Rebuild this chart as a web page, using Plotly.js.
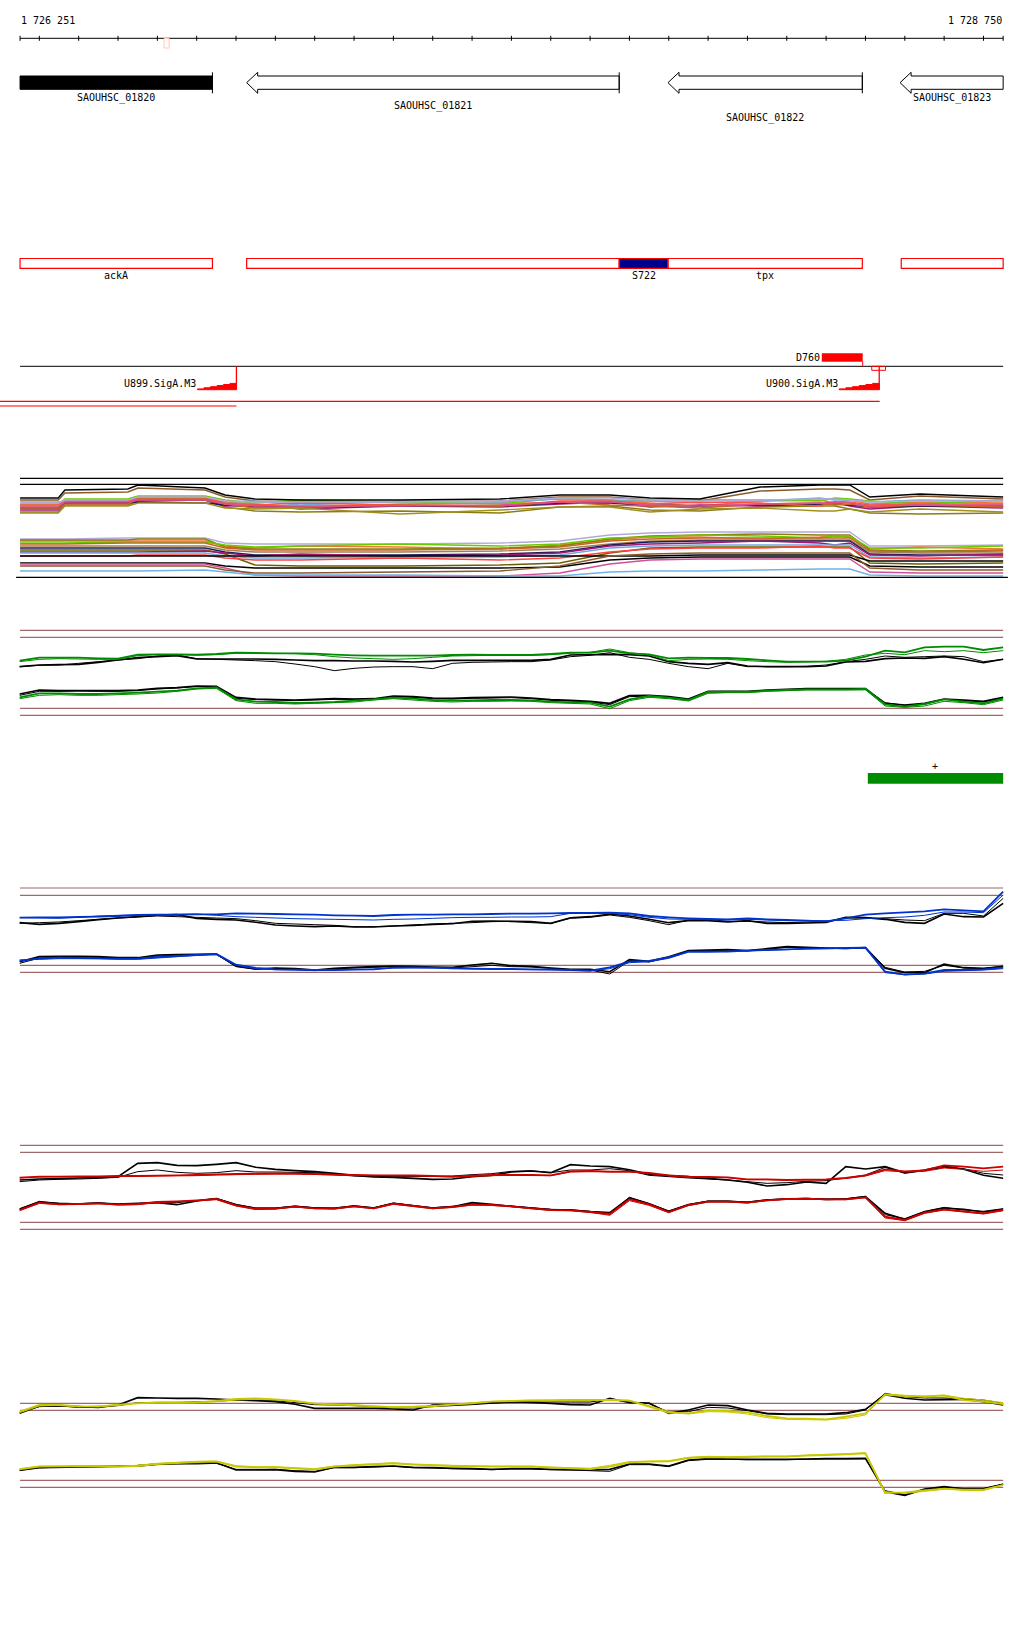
<!DOCTYPE html>
<html><head><meta charset="utf-8">
<script src="https://cdn.plot.ly/plotly-3.0.1.min.js"></script>
<style>body{margin:0;background:#fff}#chart{width:1024px;height:1640px}</style>
</head><body><div id="chart"></div>
<script>
// ---------------- DATA ----------------
const viewStart = 1726251, viewEnd = 1728750;
const rulerTicks = [1726300,1726400,1726500,1726600,1726700,1726800,1726900,1727000,1727100,1727200,1727300,1727400,1727500,1727600,1727700,1727800,1727900,1728000,1728100,1728200,1728300,1728400,1728500,1728600,1728700];
const cursorPos = [1726617, 1726630];

const geneNames = ['SAOUHSC_01820','SAOUHSC_01821','SAOUHSC_01822','SAOUHSC_01823'];
const geneStart = [1726040, 1726827, 1727898, 1728488];
const geneEnd   = [1726740, 1727774, 1728392, 1728940];
const geneStrand = ['-','-','-','-'];
const geneSelected = [true,false,false,false];

const regionNames = ['ackA','','S722','tpx',''];
const regionStart = [1726040, 1726827, 1727774, 1727898, 1728491];
const regionEnd   = [1726740, 1727774, 1727898, 1728392, 1728940];
const regionFilled = [false,false,true,false,false];

const featName = 'D760', featStart = 1728289, featEnd = 1728393;
const promNames = ['U899.SigA.M3','U900.SigA.M3'];
const promTSS = [1726801, 1728435];
const promLeft = [1726702, 1728333];
const termStart = 1728416, termEnd = 1728451;
const transStart = [1726000, 1726000];
const transEnd = [1728436, 1726801];
const plusStart = 1728406, plusEnd = 1728940;

// dense expression panel
const denseX = [1726251,1726348,1726365,1726525,1726551,1726721,1726772,1726848,1726963,1727217,1727471,1727623,1727750,1727852,1727979,1728132,1728284,1728322,1728360,1728411,1728538,1728750];
const denseTop = [
 [85,85,92,93,97,95,88,84,83,83,84,88,88,85,84,94,96,96,95,85,89,86],
 [79,79,85,85,88,88,83,81,78,81,82,82,85,82,79,84,85,82,85,81,83,82],
 [73,73,80,80,84,85,78,74,73,74,72,78,79,75,74,78,79,79,76,72,71,72],
 [81,81,86,86,89,89,85,82,85,83,81,87,85,84,85,85,84,87,86,84,81,85],
 [83,83,84,84,86,86,83,84,80,84,83,86,84,84,82,84,87,85,85,83,85,84],
 [75,75,82,82,85,85,79,80,76,79,78,81,83,78,80,79,81,83,79,76,79,77],
 [77,77,82,82,83,82,80,78,78,79,79,82,82,80,79,80,81,81,80,78,79,79],
 [80,80,84,84,87,87,82,80,82,80,79,84,84,81,83,82,79,83,83,80,81,81],
 [76,76,81,81,86,86,81,77,78,80,79,83,80,79,77,81,82,80,81,78,80,78],
 [82,82,85,85,88,88,84,83,83,83,84,87,87,85,84,85,86,86,85,83,84,84],
 [78,78,83,83,85,85,81,79,79,79,80,83,83,80,79,81,82,82,82,79,80,80],
 [72,72,79,79,82,82,77,76,77,71,75,78,78,73,76,77,74,74,76,73,76,73],
 [87,87,95,96,100,97,90,86,85,85,86,90,90,87,86,98,100,100,100,88,91,88]
];
const denseBottom = [
 [46,46,46,47,47,47,42,41,41,41,42,44,50,52,53,53,53,53,53,39,39,40],
 [44,44,44,44,44,44,39,37,39,38,36,40,45,48,48,46,48,49,48,36,38,36],
 [45,45,45,45,46,46,38,36,36,36,37,39,46,49,50,51,50,50,50,35,34,35],
 [42,42,42,43,43,43,40,38,39,41,39,41,47,48,50,49,47,49,49,37,37,39],
 [41,41,41,42,42,42,37,35,35,35,36,38,44,46,47,47,47,47,47,34,33,34],
 [39,39,39,39,39,39,35,33,33,33,34,36,41,44,45,45,45,45,45,33,32,32],
 [37,37,37,37,37,37,33,30,30,30,31,33,40,43,44,44,44,44,44,31,30,30],
 [35,35,35,35,35,35,31,20,19,19,20,22,32,37,38,38,38,38,38,22,21,22],
 [33,33,33,33,33,34,32,29,31,29,30,32,39,41,42,44,42,40,42,30,29,31],
 [32,32,32,32,32,32,29,27,27,28,28,30,37,39,40,40,40,40,40,28,27,28],
 [29,29,29,29,30,30,27,25,25,27,25,27,33,36,37,37,39,37,37,27,26,28],
 [29,29,29,29,29,29,29,29,29,29,29,29,29,29,30,30,30,30,30,24,24,24],
 [22,22,22,22,22,22,19,17,17,17,17,18,25,27,28,28,28,28,28,19,18,18],
 [21,21,21,21,21,21,17,10,9,9,9,12,21,25,26,26,26,26,26,13,12,12],
 [19,19,19,19,19,19,15,12,12,13,14,19,29,31,32,32,32,32,32,17,15,15],
 [14,14,14,14,14,15,13,10,10,10,9,9,13,14,14,15,16,16,16,10,9,9]
];
const denseFrame = [106.7, 100.7, 7.7];

// profile panels share one position grid
const gridX = [1726250,1726300,1726350,1726400,1726450,1726500,1726550,1726600,1726650,1726700,1726750,1726800,1726850,1726900,1726950,1727000,1727050,1727100,1727150,1727200,1727250,1727300,1727350,1727400,1727450,1727500,1727550,1727600,1727650,1727700,1727750,1727800,1727850,1727900,1727950,1728000,1728050,1728100,1728150,1728200,1728250,1728300,1728350,1728400,1728450,1728500,1728550,1728600,1728650,1728700,1728750];

// green panel
const greenUp1 = [178,187,187,187,185,184,196,197,197,196,198,202,201,200,200,199,196,194,193,193,193,193,195,196,195,195,195,198,202,202,208,200,197,185,187,186,186,183,179,175,175,175,178,190,208,203,218,220,220,210,218];
const greenUp2 = [175,182,184,183,182,182,193,196,196,194,196,200,200,200,199,196,190,186,184,182,184,188,192,193,194,194,194,196,200,203,213,202,196,178,182,183,182,178,175,173,174,176,182,195,200,196,208,205,208,202,208];
const greenUpK1 = [160,165,166,167,173,180,187,190,193,183,183,183,183,182,180,178,178,177,177,176,174,176,179,179,179,179,179,182,195,196,197,196,192,175,170,167,172,162,160,160,160,162,174,176,184,186,185,190,182,172,182];
const greenUpK2 = [160,164,165,170,175,180,184,192,195,184,182,180,178,175,168,160,148,155,159,160,160,154,170,173,174,175,175,180,190,194,202,188,182,170,160,154,170,160,160,160,161,165,175,182,192,188,190,192,190,175,182];
const greenLo1 = [68,80,80,78,78,80,82,85,88,95,98,62,55,54,51,52,54,58,62,67,64,60,58,59,60,60,59,55,53,52,40,62,72,67,60,84,85,84,88,90,92,92,92,93,47,40,48,62,55,50,64];
const greenLo2 = [64,74,76,74,74,76,78,81,86,93,95,58,50,50,48,50,52,54,60,64,60,56,54,56,56,57,56,52,50,48,34,58,68,64,57,80,82,82,86,88,90,90,90,91,42,38,42,56,52,46,60];
const greenLoK1 = [78,90,88,88,88,88,90,95,97,102,101,68,63,61,60,62,64,63,64,72,70,66,65,67,68,69,66,61,59,56,50,73,74,70,63,86,86,86,90,92,94,94,94,94,50,45,50,63,60,56,68];
const greenLoK2 = [74,86,86,87,86,86,88,93,96,100,100,65,61,60,58,60,62,62,62,70,68,64,63,65,66,67,64,59,57,54,46,70,72,68,61,84,84,85,88,90,92,92,93,93,52,44,47,62,58,54,66];
const greenRefs = [269,248,35,14];

// blue panel
const blueUp1 = [187,188,188,189,190,192,195,196,196,197,197,200,199,198,197,196,194,193,192,195,196,196,197,197,198,199,199,200,201,201,202,200,192,188,185,183,182,185,182,180,178,176,185,196,200,203,206,212,209,206,265];
const blueUp2 = [187,186,185,188,192,194,195,196,197,198,194,190,188,186,184,183,182,181,180,182,183,185,187,188,188,189,189,190,200,200,200,196,188,183,182,181,180,182,180,178,178,178,179,184,187,189,194,204,204,202,255];
const blueUpK1 = [172,167,170,175,181,186,190,195,196,185,182,180,173,165,162,160,162,159,159,162,164,167,169,176,177,176,175,170,187,190,198,192,182,172,178,178,174,178,170,170,171,173,188,187,182,173,170,198,190,189,230];
const blueUpK2 = [170,172,174,178,182,186,189,192,190,188,186,184,178,170,168,166,164,160,160,162,165,168,170,172,175,176,172,170,185,188,195,188,178,166,180,182,176,176,174,172,174,175,186,186,184,180,178,200,200,192,245];
const blueLo1 = [58,64,67,66,65,64,64,69,72,75,78,46,36,32,31,30,30,31,32,37,38,37,35,34,33,33,32,32,30,28,38,55,57,68,85,85,85,88,90,92,94,95,96,97,25,16,19,30,30,32,37];
const blueLo2 = [60,62,64,64,64,62,62,66,70,74,76,44,34,31,30,28,30,32,33,36,37,36,35,33,33,32,31,30,29,27,34,52,55,65,84,84,86,87,90,91,93,94,95,96,22,16,18,26,28,30,34];
const blueLoK1 = [55,70,71,71,70,67,67,75,76,77,78,42,33,36,34,30,35,38,40,42,41,39,38,45,50,43,41,36,32,32,25,61,56,70,88,90,91,88,94,100,98,96,95,97,35,22,22,48,37,35,40];
const blueLoK2 = [50,66,68,69,68,66,66,72,74,76,77,40,32,35,33,30,33,36,38,40,39,38,36,40,44,40,39,35,30,30,18,58,54,68,86,88,90,88,92,98,97,95,94,96,38,24,26,44,36,34,42];
const blueRefs = [276,254,44,23];

// red panel
const redUp1 = [187,190,190,191,191,192,192,193,194,195,197,198,199,200,199,198,196,195,194,194,194,192,190,193,195,195,195,194,206,207,205,205,201,194,190,189,188,182,182,180,181,182,186,194,212,206,209,224,220,215,220];
const redUp2 = [186,189,190,190,190,191,191,192,193,193,195,196,197,198,198,197,195,194,194,193,193,191,189,191,193,194,194,193,204,206,204,204,200,193,189,188,187,181,181,180,180,181,185,192,208,204,206,216,212,206,210];
const redUpK1 = [180,183,184,186,187,190,230,232,224,223,227,232,218,212,208,205,200,194,189,188,185,182,183,190,194,204,207,202,226,222,220,211,197,193,190,185,180,173,162,166,174,170,220,213,220,202,210,222,212,194,185];
const redUpK2 = [175,180,182,183,185,188,205,210,203,200,202,208,204,204,203,202,196,192,191,190,190,191,192,196,199,206,208,202,210,210,214,208,194,190,186,183,180,175,170,172,176,178,186,195,218,200,208,218,214,200,195];
const redLo1 = [90,112,107,108,110,106,108,114,116,119,123,104,93,94,100,95,94,101,95,109,102,95,99,106,105,101,95,90,89,84,78,122,107,84,105,115,115,112,119,123,124,122,122,128,70,60,82,92,86,80,90];
const redLo2 = [88,110,106,107,109,105,106,112,115,118,121,102,92,93,99,94,93,100,94,107,101,94,98,105,104,100,94,89,88,83,74,118,104,82,103,114,114,111,118,122,123,121,121,127,66,58,80,90,84,78,88];
const redLoK1 = [92,114,110,108,111,108,110,112,106,117,124,106,95,95,101,96,95,102,96,110,103,96,100,112,107,101,96,91,90,85,82,126,108,86,106,116,116,113,120,123,124,122,123,130,80,62,84,96,92,84,92];
const redLoK2 = [94,116,109,109,112,107,109,113,112,118,125,107,96,96,102,97,96,103,97,111,104,97,101,108,106,102,97,92,91,86,80,128,110,87,107,117,117,114,121,124,125,123,124,131,76,64,86,98,90,86,94];
const redRefs = [284,263,53,32];

// yellow panel
const yelUp1 = [265,285,285,281,280,285,290,292,292,293,297,303,305,302,297,289,286,284,281,278,279,281,286,290,295,297,298,299,300,300,300,298,280,262,260,269,267,263,252,245,244,242,250,260,316,312,310,313,300,295,288];
const yelUp2 = [262,282,284,280,282,286,291,292,291,292,295,300,302,300,296,290,288,286,282,280,281,283,287,292,296,298,300,300,301,301,301,299,283,266,258,265,264,258,247,242,241,240,245,255,318,314,312,315,305,300,292];
const yelUpK1 = [260,282,283,280,278,285,307,306,305,305,303,300,298,295,287,275,275,275,275,273,270,285,286,289,292,295,293,290,286,285,305,292,291,260,270,285,283,270,260,258,258,258,262,272,316,305,300,301,302,295,285];
const yelUpK2 = [262,280,282,278,279,283,292,293,293,294,296,300,299,298,292,286,285,283,280,276,276,280,283,286,290,293,294,294,294,294,302,294,289,264,265,278,276,268,258,256,256,256,258,270,320,310,306,306,304,300,290];
const yelLo1 = [92,100,101,102,101,100,102,108,111,114,115,100,98,98,95,91,100,104,107,110,106,104,102,101,100,100,100,97,95,93,100,113,115,116,126,129,128,129,130,130,133,135,137,140,21,23,29,34,30,30,45];
const yelLo2 = [94,102,102,103,103,102,104,110,113,116,117,103,100,100,97,94,102,106,109,112,108,106,104,103,102,102,102,99,97,95,104,115,117,118,128,131,130,131,132,132,135,137,139,142,25,20,26,32,32,32,46];
const yelLoK1 = [90,98,99,100,101,102,103,108,110,111,112,90,90,91,86,84,98,98,100,102,98,97,95,94,92,94,94,92,91,90,92,108,108,102,120,124,123,122,122,122,123,124,124,125,25,14,33,40,33,33,47];
const yelLoK2 = [88,96,97,98,99,100,101,106,108,108,110,92,92,92,88,86,97,97,99,101,97,96,94,93,91,93,93,91,90,88,86,106,106,100,118,122,122,121,121,121,122,123,123,124,28,16,30,38,35,35,48];
const yelRefs = [290,269,59,38];

// ---------------- STYLE / LAYOUT ----------------
const W = 1024, H = 1640;
const py = px => 1 - px / H;
const FONT = {family: 'DejaVu Sans Mono, Liberation Mono, monospace', size: 10, color: '#000'};
const RED = '#ff0000', REFC = '#a06868';
const denseTopColors = ['#8b5a2b','#f07830','#8b7d10','#66cc00','#70a8e0','#a01870','#1c1c5c','#ff5040','#c8642a','#b4a8d8','#e0508c','#a09020','#000000'];
const denseBottomColors = ['#b4a8d8','#f07830','#8b7d10','#66cc00','#c8642a','#a08050','#1c1c5c','#6b5e00','#a01870','#70a8e0','#ff4040','#000000','#000000','#d04f9a','#8b5a2b','#6cb4e8'];

const clampS = v => Math.max(v, viewStart), clampE = v => Math.min(v, viewEnd);
const shapes = [], ann = [];
function hline(x0, x1, ypx, color, w) { shapes.push({type:'line', xref:'x', yref:'paper', x0, x1, y0:py(ypx), y1:py(ypx), line:{color, width:w||1}}); }
function vline(x, y0px, y1px, color, w) { shapes.push({type:'line', xref:'x', yref:'paper', x0:x, x1:x, y0:py(y0px), y1:py(y1px), line:{color, width:w||1}}); }
function rect(x0, x1, y0px, y1px, line, fill, w) { shapes.push({type:'rect', xref:'x', yref:'paper', x0, x1, y0:py(y0px), y1:py(y1px), line:{color:line, width:w===undefined?1:w}, fillcolor:fill||'rgba(0,0,0,0)'}); }
function label(text, x, ypx, anchor) { ann.push({text, x, y:py(ypx), xref:'x', yref:'paper', xanchor:anchor||'center', yanchor:'middle', showarrow:false, font:FONT, borderpad:0}); }

// ruler
hline(viewStart, viewEnd, 38.3, '#000', 1);
[viewStart].concat(rulerTicks, [viewEnd]).forEach(t => vline(t, 35.8, 40.8, '#000', 1));
rect(cursorPos[0], cursorPos[1], 38.5, 48, '#ffc8b4', null, 1);
label('1 726 251', viewStart, 20.7, 'left');
label('1 728 750', viewEnd, 20.7, 'right');

// genes
const G = {top:76, bot:89.3, hTop:72.3, hBot:93.3, head:28, labelY:[98,106.3,118,98]};
geneNames.forEach((n, i) => {
  const a = clampS(geneStart[i]), b = clampE(geneEnd[i]);
  const yc = py((G.top + G.bot) / 2), yT = py(G.top), yB = py(G.bot);
  let path;
  if (geneStrand[i] === '-' && geneStart[i] >= viewStart) {
    const h = a + G.head;
    path = `M${a},${yc} L${h},${py(G.hTop)} L${h},${yT} L${b},${yT} L${b},${yB} L${h},${yB} L${h},${py(G.hBot)} Z`;
  } else {
    path = `M${a},${yT} L${b},${yT} L${b},${yB} L${a},${yB} Z`;
  }
  shapes.push({type:'path', xref:'x', yref:'paper', path, line:{color:'#000', width:1}, fillcolor: geneSelected[i] ? '#000' : '#fff'});
  if (geneEnd[i] <= viewEnd) vline(b, G.hTop, G.hBot, '#000', 1);
  label(n, (a + b) / 2, G.labelY[i], 'center');
});

// regions
regionNames.forEach((n, i) => {
  const a = clampS(regionStart[i]), b = clampE(regionEnd[i]);
  rect(a, b, 258.5, 268.3, RED, regionFilled[i] ? '#00008b' : null, 1.2);
  if (n) label(n, (a + b) / 2, 275, 'center');
});

// track 3
hline(viewStart, viewEnd, 366.3, '#000', 1);
rect(featStart, featEnd, 353.3, 361.7, RED, RED, 0);
vline(featEnd, 361.7, 366.3, RED, 1);
label(featName, featStart - 2, 358, 'right');
rect(termStart, termEnd, 366.3, 370.3, RED, null, 1);
promNames.forEach((n, i) => {
  vline(promTSS[i], 366.3, 389.7, RED, 1.3);
  const steps = 6, x0 = promLeft[i], x1 = promTSS[i], dx = (x1 - x0) / steps;
  let p = `M${x0},${py(389.7)}`;
  for (let s = 0; s < steps; s++) {
    const hgt = 389.7 - (0.8 + s * 1.1);
    p += ` L${x0 + s * dx},${py(hgt)} L${x0 + (s + 1) * dx},${py(hgt)}`;
  }
  p += ` L${x1},${py(389.7)} Z`;
  shapes.push({type:'path', xref:'x', yref:'paper', path:p, line:{color:RED, width:1}, fillcolor:RED});
  label(n, x0 - 1, 383.3, 'right');
});
hline(transStart[0], transEnd[0], 401.3, RED, 1.2);
hline(transStart[1], transEnd[1], 406, RED, 1.2);

// plus-strand bar
rect(plusStart, clampE(plusEnd), 773, 783.7, '#008c00', '#008c00', 0);
label('+', (plusStart + clampE(plusEnd)) / 2, 766.3, 'center');

// ---------------- TRACES ----------------
const traces = [];
function ln(x, y, ax, color, width) { traces.push({type:'scatter', mode:'lines', x, y, xaxis:'x', yaxis:ax, line:{color, width, simplify:false}, hoverinfo:'skip'}); }

// dense panel (y)
denseBottom.forEach((v, i) => ln(denseX, v, 'y', denseBottomColors[i], 1.4));
denseTop.forEach((v, i) => ln(denseX, v, 'y', denseTopColors[i], 1.4));
ln([viewStart, viewEnd], [denseFrame[0], denseFrame[0]], 'y', '#000', 1.2);
ln([viewStart, viewEnd], [denseFrame[1], denseFrame[1]], 'y', '#000', 1.2);
ln([1726241, 1728762], [denseFrame[2], denseFrame[2]], 'y', '#000', 1.2);

function profilePanel(ax, col, refs, up1, up2, upK1, upK2, lo1, lo2, loK1, loK2) {
  refs.forEach(r => ln([viewStart, viewEnd], [r, r], ax, REFC, 1.2));
  ln(gridX, upK2, ax, '#000', 1); ln(gridX, upK1, ax, '#000', 1.6);
  ln(gridX, loK2, ax, '#000', 1); ln(gridX, loK1, ax, '#000', 1.6);
  ln(gridX, up2, ax, col, 1); ln(gridX, up1, ax, col, 1.8);
  ln(gridX, lo2, ax, col, 1); ln(gridX, lo1, ax, col, 1.8);
}
profilePanel('y2', '#008c00', greenRefs, greenUp1, greenUp2, greenUpK1, greenUpK2, greenLo1, greenLo2, greenLoK1, greenLoK2);
profilePanel('y3', '#0033cc', blueRefs, blueUp1, blueUp2, blueUpK1, blueUpK2, blueLo1, blueLo2, blueLoK1, blueLoK2);
profilePanel('y4', '#cc0000', redRefs, redUp1, redUp2, redUpK1, redUpK2, redLo1, redLo2, redLoK1, redLoK2);
profilePanel('y5', '#c8c800', yelRefs, yelUp1, yelUp2, yelUpK1, yelUpK2, yelLo1, yelLo2, yelLoK1, yelLoK2);

const hidden = {visible:false, fixedrange:true, showgrid:false, zeroline:false};
const layout = {
  width: W, height: H, margin:{l:0, r:0, t:0, b:0}, paper_bgcolor:'#fff', plot_bgcolor:'rgba(0,0,0,0)',
  showlegend:false, hovermode:false,
  xaxis: Object.assign({range:[1726200, 1728803], domain:[0,1]}, hidden),
  yaxis:  Object.assign({domain:[py(585), py(455)], range:[0,130], anchor:'x'}, hidden),
  yaxis2: Object.assign({domain:[py(720), py(620)], range:[0,300], anchor:'x'}, hidden),
  yaxis3: Object.assign({domain:[py(980), py(880)], range:[0,300], anchor:'x'}, hidden),
  yaxis4: Object.assign({domain:[py(1240), py(1140)], range:[0,300], anchor:'x'}, hidden),
  yaxis5: Object.assign({domain:[py(1500), py(1390)], range:[0,330], anchor:'x'}, hidden),
  shapes, annotations: ann
};
Plotly.newPlot('chart', traces, layout, {staticPlot:true, displayModeBar:false});
</script>
</body></html>
